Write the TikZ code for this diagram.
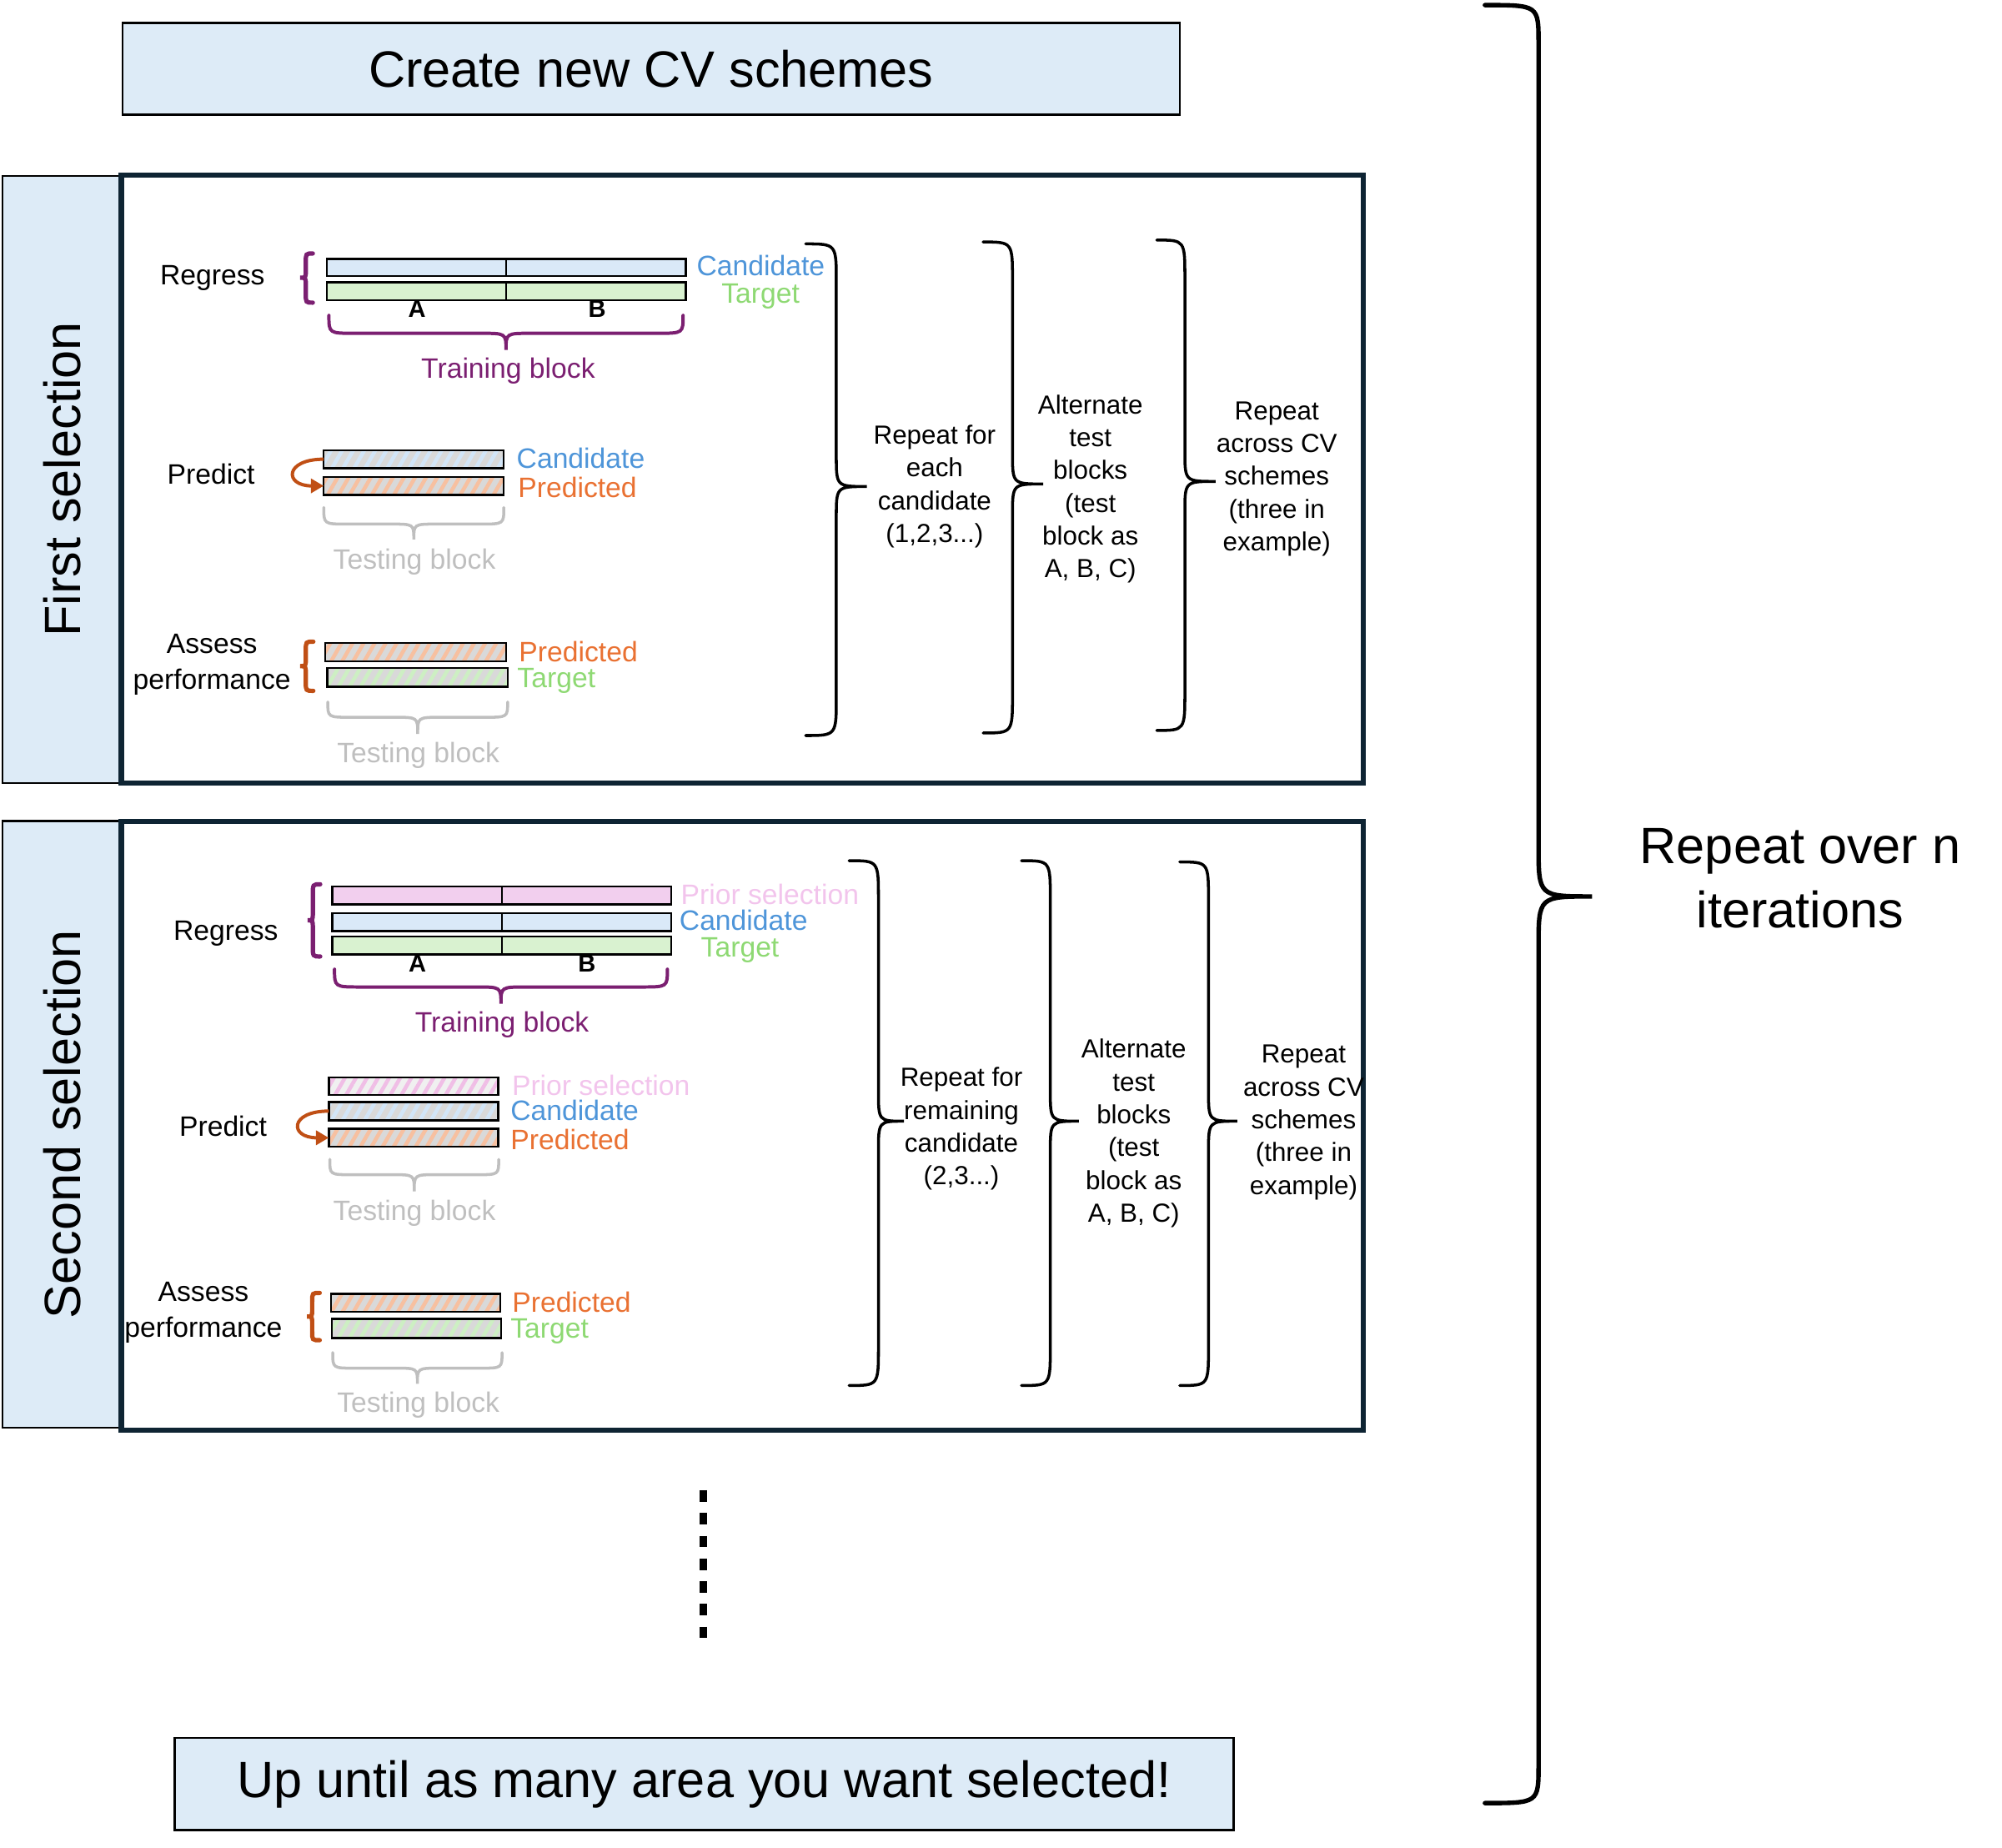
\documentclass[tikz,border=0pt]{standalone}
\usepackage{fontspec}
\setmainfont{Liberation Sans}
\usetikzlibrary{patterns.meta,arrows.meta}
\definecolor{boxblue}{HTML}{DDEBF7}
\definecolor{candfill}{HTML}{DAE9F8}
\definecolor{targfill}{HTML}{D9F2D0}
\definecolor{priorfill}{HTML}{F2CFEE}
\definecolor{navy}{HTML}{0E2433}
\definecolor{candtxt}{HTML}{4E95D9}
\definecolor{targtxt}{HTML}{8ED973}
\definecolor{predtxt}{HTML}{E97132}
\definecolor{priortxt}{HTML}{F2C4EC}
\definecolor{purp}{HTML}{7B1F71}
\definecolor{orc}{HTML}{C04F15}
\definecolor{graytxt}{HTML}{BFBFBF}
\definecolor{hgray}{HTML}{D9D9D9}
\definecolor{hlight}{HTML}{F0F0F0}
\definecolor{stblue}{HTML}{D2E5F7}
\definecolor{storange}{HTML}{F7C0A0}
\definecolor{stgreen}{HTML}{CDEFC3}
\definecolor{stpink}{HTML}{F0BEE6}
\newcommand\fsbig{\fontsize{40}{50}\selectfont}
\newcommand\fslab{\fontsize{22}{28}\selectfont}
\newcommand\fsbr{\fontsize{20.5}{25.7}\selectfont}
\newcommand\fsab{\fontsize{19}{22}\selectfont\bfseries}
% vertical brace: style, x0, ytop, ybot, xstem, xtip, ytip, rend, rtip
\newcommand\vbr[9]{%
  \draw[#1] (#2,#3) .. controls (#5,#3) .. (#5,#3+#8) -- (#5,#7-#9)
    .. controls (#5,#7) .. (#6,#7) .. controls (#5,#7) .. (#5,#7+#9)
    -- (#5,#4-#8) .. controls (#5,#4) .. (#2,#4);}
% horizontal brace: style, xl, xr, ytop, ymid, ytip, rend, rtip
\newcommand\hbr[8]{%
  \draw[#1] (#2,#4) .. controls (#2,#5) .. (#2+#7,#5) -- ({(#2+#3)/2-#8},#5)
    .. controls ({(#2+#3)/2},#5) .. ({(#2+#3)/2},#6)
    .. controls ({(#2+#3)/2},#5) .. ({(#2+#3)/2+#8},#5) -- (#3-#7,#5)
    .. controls (#3,#5) .. (#3,#4);}
\begin{document}
\begin{tikzpicture}[x=1pt,y=-1pt,
  bigbox/.style={draw=black, line width=1.8pt, fill=boxblue, font=\fsbig, inner sep=0pt},
  sidebox/.style={draw=black, line width=1.5pt, fill=boxblue, font=\fsbig, inner sep=0pt, rotate=90},
  mainbox/.style={draw=navy, line width=4pt, inner sep=0pt},
  barbox/.style={draw=black, line width=1.6pt, inner sep=0pt, outer sep=0pt},
  hatch/.style 2 args={barbox, preaction={fill=#1}, pattern={Lines[angle=60,distance=7.5pt,line width=3pt]}, pattern color=#2},
  lab/.style={font=\fslab, inner sep=0pt},
  brtxt/.style={font=\fsbr, align=center, inner sep=0pt},
  abtxt/.style={font=\fsab, inner sep=0pt},
  bigbr/.style={line width=2.3pt, line cap=round},
  hugebr/.style={line width=3.5pt, line cap=round},
  purpbr/.style={draw=purp, line width=2.6pt, line cap=round},
  sbr/.style={line width=3.4pt, line cap=round},
  graybr/.style={draw=graytxt, line width=2.3pt, line cap=round},
  arr/.style={draw=orc, line width=2.6pt, -{Triangle[length=10pt,width=11pt]}},
  split/.style={line width=1.6pt}
]
\useasboundingbox (0,0) rectangle (1568,1447);

% top and bottom boxes
\node[bigbox, minimum width=828pt, minimum height=72pt] (create) at (510,54) {Create new CV schemes};
\node[bigbox, minimum width=829pt, minimum height=72pt] (until) at (551.5,1397) {Up until as many area you want selected!};

% side labels and main boxes
\node[sidebox, minimum width=475pt, minimum height=93pt] (side1) at (48.5,375.5) {First selection};
\node[sidebox, minimum width=475pt, minimum height=93pt] (side2) at (48.5,880.5) {Second selection};
\node[mainbox, minimum width=973pt, minimum height=476pt] (main1) at (581.5,375) {};
\node[mainbox, minimum width=973pt, minimum height=477pt] (main2) at (581.5,881.5) {};

% dots
\coordinate (dtop) at (551,1167);
\coordinate (dbot) at (551,1283);
\draw[line width=6pt, dash pattern=on 9pt off 8.8pt] (dtop) -- (dbot);

% outer brace
\vbr{hugebr}{1163}{4}{1412}{1205}{1247}{702}{30}{40}
\node[font=\fsbig, align=center, inner sep=0pt] (repn) at (1410,688) {Repeat over n\\iterations};

% ================= First selection =================
\node[lab] (reg1) at (166.4,218) {Regress};
\vbr{sbr,draw=purp}{245}{198.5}{237}{239.5}{235}{217.5}{7}{6}
\node[barbox, fill=candfill, minimum width=281pt, minimum height=13.5pt] (cand1) at (396.5,209.5) {};
\node[barbox, fill=targfill, minimum width=281pt, minimum height=14pt] (targ1) at (396.5,228) {};
\draw[split] (cand1.north) -- (cand1.south);
\draw[split] (targ1.north) -- (targ1.south);
\node[abtxt] (a1) at (326.6,242) {A};
\node[abtxt] (b1) at (467.7,242) {B};
\hbr{purpbr}{257.6}{535}{247}{261}{274}{20}{20}
\node[lab, text=purp] (tr1) at (398,290.5) {Training block};
\node[lab, text=candtxt, anchor=west] (lc1) at (545.5,208) {Candidate};
\node[lab, text=targtxt] (lt1) at (595.7,232) {Target};

\node[lab] (pre1) at (165.3,371) {Predict};
\node[hatch={hgray}{stblue}, minimum width=141pt, minimum height=14pt] (pc1) at (324,359.6) {};
\node[hatch={hgray}{storange}, minimum width=141pt, minimum height=14pt] (pp1) at (324,380.5) {};
\draw[arr] (pc1.west) to[out=180, in=180, looseness=3.8] (pp1.west);
\node[lab, text=candtxt, anchor=west] (lpc1) at (404.5,358.8) {Candidate};
\node[lab, text=predtxt, anchor=west] (lpp1) at (405.6,382) {Predicted};
\hbr{graybr}{253.6}{394.6}{397.4}{410.4}{422.4}{18}{18}
\node[lab, text=graytxt] (tb1) at (324.6,440) {Testing block};

\node[lab, align=center] (as1) at (166,520.5) {Assess\\performance};
\vbr{sbr,draw=orc}{245.4}{502.5}{541}{239.5}{235}{521.7}{7}{6}
\node[hatch={hgray}{storange}, minimum width=141.5pt, minimum height=14.4pt] (ap1) at (325.5,510.6) {};
\node[hatch={hgray}{stgreen}, minimum width=141.4pt, minimum height=14.6pt] (at1) at (327,530.5) {};
\node[lab, text=predtxt, anchor=west] (lap1) at (406.3,510.6) {Predicted};
\node[lab, text=targtxt, anchor=west] (lat1) at (405,533) {Target};
\hbr{graybr}{256.7}{397.6}{549.7}{561.7}{574.8}{18}{18}
\node[lab, text=graytxt] (tb1b) at (327.6,591.5) {Testing block};

\vbr{bigbr}{631}{191}{576}{655}{679}{381}{30}{24}
\vbr{bigbr}{770}{189.5}{574}{793}{817}{379}{30}{24}
\vbr{bigbr}{906}{188}{572}{928}{952}{377}{30}{24}
\node[brtxt] (r11) at (732,381) {Repeat for\\each\\candidate\\(1,2,3...)};
\node[brtxt] (r12) at (854,383) {Alternate\\test\\blocks\\(test\\block as\\A, B, C)};
\node[brtxt] (r13) at (1000,375) {Repeat\\across CV\\schemes\\(three in\\example)};

% ================= Second selection =================
\node[lab] (reg2) at (176.9,731) {Regress};
\vbr{sbr,draw=purp}{250.8}{692.5}{749}{245}{241}{720.7}{8}{6}
\node[barbox, fill=priorfill, minimum width=265.5pt, minimum height=14pt] (prior2) at (393,701.2) {};
\node[barbox, fill=candfill, minimum width=265.5pt, minimum height=14pt] (cand2) at (393,722.1) {};
\node[barbox, fill=targfill, minimum width=265.5pt, minimum height=14pt] (targ2) at (393,740.4) {};
\draw[split] (prior2.north) -- (prior2.south);
\draw[split] (cand2.north) -- (cand2.south);
\draw[split] (targ2.north) -- (targ2.south);
\node[abtxt] (a2) at (326.9,754.4) {A};
\node[abtxt] (b2) at (459.6,754.4) {B};
\hbr{purpbr}{262}{522.7}{759}{772.9}{786}{20}{20}
\node[lab, text=purp] (tr2) at (393.2,802.3) {Training block};
\node[lab, text=priortxt, anchor=west] (lpr2) at (533.1,700.4) {Prior selection};
\node[lab, text=candtxt, anchor=west] (lc2) at (532,720.7) {Candidate};
\node[lab, text=targtxt] (lt2) at (579.6,744.2) {Target};

\node[lab] (pre2) at (174.7,881.8) {Predict};
\node[hatch={hlight}{stpink}, minimum width=132.8pt, minimum height=13.7pt] (ppr2) at (323.9,850.5) {};
\node[hatch={hgray}{stblue}, minimum width=132.8pt, minimum height=14.4pt] (pc2) at (323.9,870.1) {};
\node[hatch={hgray}{storange}, minimum width=132.8pt, minimum height=14pt] (pp2) at (323.9,891) {};
\draw[arr] (pc2.west) to[out=180, in=180, looseness=3.8] (pp2.west);
\node[lab, text=priortxt, anchor=west] (lppr2) at (400.8,850.2) {Prior selection};
\node[lab, text=candtxt, anchor=west] (lpc2) at (399.7,869.4) {Candidate};
\node[lab, text=predtxt, anchor=west] (lpp2) at (399.7,892.2) {Predicted};
\hbr{graybr}{258.3}{390.6}{907.9}{919.9}{933}{17}{17}
\node[lab, text=graytxt] (tb2) at (324.6,950) {Testing block};

\node[lab, align=center] (as2) at (159.3,1028) {Assess\\performance};
\vbr{sbr,draw=orc}{250.4}{1012.5}{1049.5}{244.5}{240.5}{1031}{7}{6}
\node[hatch={hgray}{storange}, minimum width=132.7pt, minimum height=14.2pt] (ap2) at (325.5,1020.3) {};
\node[hatch={hgray}{stgreen}, minimum width=132.6pt, minimum height=15pt] (at2) at (326.3,1040.2) {};
\node[lab, text=predtxt, anchor=west] (lap2) at (401,1019.4) {Predicted};
\node[lab, text=targtxt, anchor=west] (lat2) at (399.7,1042.5) {Target};
\hbr{graybr}{260.6}{393.2}{1059.2}{1071.4}{1083.6}{17}{17}
\node[lab, text=graytxt] (tb2b) at (327.6,1100.5) {Testing block};

\vbr{bigbr}{665}{674}{1085}{688}{708}{878}{30}{24}
\vbr{bigbr}{800}{674}{1085}{822.6}{845}{878}{30}{24}
\vbr{bigbr}{924}{675}{1085}{946.5}{969}{878}{30}{24}
\node[brtxt] (r21) at (753,884) {Repeat for\\remaining\\candidate\\(2,3...)};
\node[brtxt] (r22) at (888,887.5) {Alternate\\test\\blocks\\(test\\block as\\A, B, C)};
\node[brtxt] (r23) at (1021,879) {Repeat\\across CV\\schemes\\(three in\\example)};
\end{tikzpicture}
\end{document}
